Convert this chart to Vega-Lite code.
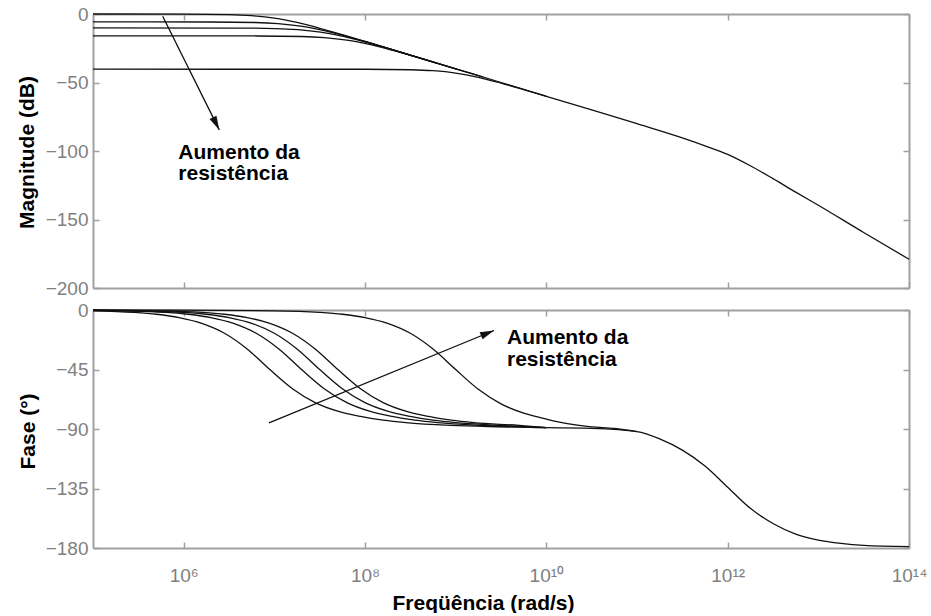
{
  "$schema": "https://vega.github.io/schema/vega-lite/v6.json",
  "autosize": {"type": "pad"},
  "padding": {"left": 15, "top": 5, "right": 0, "bottom": 0},
  "bounds": "flush",
  "spacing": 22,
  "background": "white",
  "datasets": {
    "mag": [
      {"c":"A","f":1e5,"v":0},{"c":"A","f":1e6,"v":-0.04},{"c":"A","f":3.162e6,"v":-0.41},{"c":"A","f":5.623e6,"v":-1.19},{"c":"A","f":1e7,"v":-3.01},{"c":"A","f":1.778e7,"v":-6.19},{"c":"A","f":3.162e7,"v":-10.41},{"c":"A","f":5.623e7,"v":-15.13},{"c":"A","f":1e8,"v":-20.04},{"c":"A","f":3.162e8,"v":-30.0},
      {"c":"B","f":1e5,"v":-5.8},{"c":"B","f":1.95e6,"v":-5.84},{"c":"B","f":6.166e6,"v":-6.21},{"c":"B","f":1.096e7,"v":-6.99},{"c":"B","f":1.95e7,"v":-8.81},{"c":"B","f":3.467e7,"v":-11.99},{"c":"B","f":6.166e7,"v":-16.21},{"c":"B","f":1.096e8,"v":-20.93},{"c":"B","f":1.95e8,"v":-25.84},{"c":"B","f":6.166e8,"v":-35.8},
      {"c":"C","f":1e5,"v":-10.2},{"c":"C","f":3.236e6,"v":-10.24},{"c":"C","f":1.023e7,"v":-10.61},{"c":"C","f":1.82e7,"v":-11.39},{"c":"C","f":3.236e7,"v":-13.21},{"c":"C","f":5.754e7,"v":-16.39},{"c":"C","f":1.023e8,"v":-20.61},{"c":"C","f":1.82e8,"v":-25.33},{"c":"C","f":3.236e8,"v":-30.24},{"c":"C","f":1.023e9,"v":-40.2},
      {"c":"D","f":1e5,"v":-16},{"c":"D","f":6.31e6,"v":-16.04},{"c":"D","f":1.995e7,"v":-16.41},{"c":"D","f":3.548e7,"v":-17.19},{"c":"D","f":6.31e7,"v":-19.01},{"c":"D","f":1.122e8,"v":-22.19},{"c":"D","f":1.995e8,"v":-26.41},{"c":"D","f":3.548e8,"v":-31.13},{"c":"D","f":6.31e8,"v":-36.04},{"c":"D","f":1.995e9,"v":-46.0},
      {"c":"E","f":1e5,"v":-40.3},{"c":"E","f":1e8,"v":-40.34},{"c":"E","f":3.162e8,"v":-40.7},{"c":"E","f":5.623e8,"v":-41.4},{"c":"E","f":1e9,"v":-43.1},{"c":"E","f":1.778e9,"v":-46.2},{"c":"E","f":3.162e9,"v":-50.41},{"c":"E","f":5.623e9,"v":-55.13},{"c":"E","f":1e10,"v":-60.04},
      {"c":"T","f":1e8,"v":-20},{"c":"T","f":3.162e8,"v":-30},{"c":"T","f":1e9,"v":-40},{"c":"T","f":3.162e9,"v":-50},{"c":"T","f":1e10,"v":-60.04},{"c":"T","f":3.162e10,"v":-70},{"c":"T","f":1e11,"v":-80.04},{"c":"T","f":3.162e11,"v":-90.41},{"c":"T","f":5.623e11,"v":-96.19},{"c":"T","f":1e12,"v":-102.5},{"c":"T","f":1.778e12,"v":-110.8},{"c":"T","f":3.162e12,"v":-120.2},{"c":"T","f":5.623e12,"v":-130},{"c":"T","f":1e13,"v":-139.6},{"c":"T","f":3.162e13,"v":-159.5},{"c":"T","f":1e14,"v":-179}
    ],
    "phase": [
      {"c":"A","f":1e5,"v":-0.6},{"c":"A","f":2.818e5,"v":-1.8},{"c":"A","f":5.012e5,"v":-3.2},{"c":"A","f":8.913e5,"v":-5.7},{"c":"A","f":1.585e6,"v":-10.1},{"c":"A","f":2.818e6,"v":-17.6},{"c":"A","f":5.012e6,"v":-29.5},{"c":"A","f":8.913e6,"v":-45},{"c":"A","f":1.585e7,"v":-59.5},{"c":"A","f":2.818e7,"v":-70},{"c":"A","f":5.012e7,"v":-76.5},{"c":"A","f":8.913e7,"v":-80.5},{"c":"A","f":1.585e8,"v":-83.3},{"c":"A","f":2.818e8,"v":-85.2},{"c":"A","f":8.913e8,"v":-87.3},{"c":"A","f":2.818e9,"v":-88.3},{"c":"A","f":1e10,"v":-89},
      {"c":"B","f":1e5,"v":-0.3},{"c":"B","f":6.31e5,"v":-1.8},{"c":"B","f":1.122e6,"v":-3.2},{"c":"B","f":1.995e6,"v":-5.7},{"c":"B","f":3.548e6,"v":-10.1},{"c":"B","f":6.31e6,"v":-17.6},{"c":"B","f":1.122e7,"v":-29.5},{"c":"B","f":1.995e7,"v":-45},{"c":"B","f":3.548e7,"v":-59.5},{"c":"B","f":6.31e7,"v":-70},{"c":"B","f":1.122e8,"v":-76.5},{"c":"B","f":1.995e8,"v":-80.5},{"c":"B","f":3.548e8,"v":-83.3},{"c":"B","f":6.31e8,"v":-85.2},{"c":"B","f":1.995e9,"v":-87.3},{"c":"B","f":1e10,"v":-89},
      {"c":"C","f":1e5,"v":-0.2},{"c":"C","f":1e6,"v":-1.8},{"c":"C","f":1.778e6,"v":-3.2},{"c":"C","f":3.162e6,"v":-5.7},{"c":"C","f":5.623e6,"v":-10.1},{"c":"C","f":1e7,"v":-17.6},{"c":"C","f":1.778e7,"v":-29.5},{"c":"C","f":3.162e7,"v":-45},{"c":"C","f":5.623e7,"v":-59.5},{"c":"C","f":1e8,"v":-70},{"c":"C","f":1.778e8,"v":-76.5},{"c":"C","f":3.162e8,"v":-80.5},{"c":"C","f":5.623e8,"v":-83.3},{"c":"C","f":1e9,"v":-85.2},{"c":"C","f":3.162e9,"v":-87.3},{"c":"C","f":1e10,"v":-89},
      {"c":"D","f":1e5,"v":-0.1},{"c":"D","f":5.012e5,"v":-0.6},{"c":"D","f":1.585e6,"v":-1.8},{"c":"D","f":2.818e6,"v":-3.2},{"c":"D","f":5.012e6,"v":-5.7},{"c":"D","f":8.913e6,"v":-10.1},{"c":"D","f":1.585e7,"v":-17.6},{"c":"D","f":2.818e7,"v":-29.5},{"c":"D","f":5.012e7,"v":-45},{"c":"D","f":8.913e7,"v":-59.5},{"c":"D","f":1.585e8,"v":-70},{"c":"D","f":2.818e8,"v":-76.5},{"c":"D","f":5.012e8,"v":-80.5},{"c":"D","f":8.913e8,"v":-83.3},{"c":"D","f":1.585e9,"v":-85.2},{"c":"D","f":5.012e9,"v":-87.3},{"c":"D","f":1e10,"v":-89},
      {"c":"E","f":1e5,"v":0},{"c":"E","f":1e6,"v":-0.1},{"c":"E","f":1e7,"v":-0.6},{"c":"E","f":3.162e7,"v":-1.8},{"c":"E","f":5.623e7,"v":-3.2},{"c":"E","f":1e8,"v":-5.7},{"c":"E","f":1.778e8,"v":-10.1},{"c":"E","f":3.162e8,"v":-17.6},{"c":"E","f":5.623e8,"v":-29.5},{"c":"E","f":1e9,"v":-45},{"c":"E","f":1.778e9,"v":-60},{"c":"E","f":3.162e9,"v":-71},{"c":"E","f":5.623e9,"v":-78},{"c":"E","f":1e10,"v":-82.5},{"c":"E","f":1.778e10,"v":-86.2},{"c":"E","f":3.162e10,"v":-88.4},{"c":"E","f":5.623e10,"v":-89.6},{"c":"E","f":1e11,"v":-92},
      {"c":"T","f":1e10,"v":-89},{"c":"T","f":3.162e10,"v":-89.6},{"c":"T","f":1e11,"v":-92},{"c":"T","f":1.778e11,"v":-97.5},{"c":"T","f":3.162e11,"v":-106},{"c":"T","f":5.623e11,"v":-118},{"c":"T","f":1e12,"v":-134},{"c":"T","f":1.778e12,"v":-150},{"c":"T","f":3.162e12,"v":-161.5},{"c":"T","f":5.623e12,"v":-169.5},{"c":"T","f":1e13,"v":-174},{"c":"T","f":1.778e13,"v":-176.5},{"c":"T","f":3.162e13,"v":-178},{"c":"T","f":1e14,"v":-179}
    ],
    "arrowTop": [{"f":5.87e5,"v":-1.7,"f2":2.47e6,"v2":-84.6}],
    "arrowBottom": [{"f":8.73e6,"v":-85.3,"f2":2.65e9,"v2":-15.5}],
    "textTop": [{"f":8.73e5,"v":-106.0,"t":"Aumento da"},{"f":8.73e5,"v":-121.2,"t":"resistência"}],
    "textBottom": [{"f":3.68e9,"v":-25.4,"t":"Aumento da"},{"f":3.68e9,"v":-42.1,"t":"resistência"}]
  },
  "vconcat": [
    {
      "width": 816,
      "height": 274,
      "resolve": {"axis": {"x": "independent", "y": "independent"}},
      "layer": [
        {
          "data": {"name": "mag"},
          "mark": {"type": "line", "color": "#111", "strokeWidth": 1.3, "interpolate": "monotone"},
          "encoding": {
            "x": {"field": "f", "type": "quantitative", "scale": {"type": "log", "domain": [1e5, 1e14], "nice": false},
                  "axis": {"orient": "bottom", "values": [1e6, 1e8, 1e10, 1e12, 1e14], "labels": false, "title": null}},
            "y": {"field": "v", "type": "quantitative", "scale": {"domain": [-200, 0], "nice": false, "zero": false},
                  "axis": {"orient": "left", "values": [-200, -150, -100, -50, 0], "title": "Magnitude (dB)", "labelPadding": 11,
                           "titleX": -60, "titleY": 138, "titleBaseline": "alphabetic", "titleAngle": -90, "titleAlign": "center"}},
            "detail": {"field": "c"}
          }
        },
        {
          "data": {"name": "arrowTop"},
          "mark": {"type": "rule", "color": "#111", "strokeWidth": 1.3},
          "encoding": {
            "x": {"field": "f", "type": "quantitative", "axis": {"orient": "top", "values": [1e6, 1e8, 1e10, 1e12, 1e14], "labels": false, "title": null}},
            "y": {"field": "v", "type": "quantitative", "axis": {"orient": "right", "values": [-200, -150, -100, -50, 0], "labels": false, "title": null}},
            "x2": {"field": "f2"},
            "y2": {"field": "v2"}
          }
        },
        {
          "data": {"name": "arrowTop"},
          "mark": {"type": "point", "shape": "M0,0L0.55,2L-0.55,2Z", "filled": true, "size": 196, "angle": 153.5, "color": "#111", "opacity": 1},
          "encoding": {
            "x": {"field": "f2", "type": "quantitative", "axis": null},
            "y": {"field": "v2", "type": "quantitative", "axis": null}
          }
        },
        {
          "data": {"name": "textTop"},
          "mark": {"type": "text", "align": "left", "baseline": "alphabetic", "font": "Liberation Sans", "fontWeight": "bold", "fontSize": 21, "color": "#000"},
          "encoding": {
            "x": {"field": "f", "type": "quantitative", "axis": null},
            "y": {"field": "v", "type": "quantitative", "axis": null},
            "text": {"field": "t"}
          }
        }
      ]
    },
    {
      "width": 816,
      "height": 238,
      "resolve": {"axis": {"x": "independent", "y": "independent"}},
      "layer": [
        {
          "data": {"name": "phase"},
          "mark": {"type": "line", "color": "#111", "strokeWidth": 1.3, "interpolate": "monotone"},
          "encoding": {
            "x": {"field": "f", "type": "quantitative", "scale": {"type": "log", "domain": [1e5, 1e14], "nice": false},
                  "axis": {"orient": "bottom", "values": [1e6, 1e8, 1e10, 1e12, 1e14], "title": "Freqüência (rad/s)", "labelPadding": 24,
                           "labelExpr": "datum.value == 1e6 ? '10⁶' : datum.value == 1e8 ? '10⁸' : datum.value == 1e10 ? '10¹⁰' : datum.value == 1e12 ? '10¹²' : '10¹⁴'",
                           "titleX": 390, "titleY": 61, "titleBaseline": "alphabetic", "titleAlign": "center"}},
            "y": {"field": "v", "type": "quantitative", "scale": {"domain": [-180, 0], "nice": false, "zero": false},
                  "axis": {"orient": "left", "values": [-180, -135, -90, -45, 0], "title": "Fase (°)", "labelPadding": 11,
                           "titleX": -59, "titleY": 121, "titleBaseline": "alphabetic", "titleAngle": -90, "titleAlign": "center"}},
            "detail": {"field": "c"}
          }
        },
        {
          "data": {"name": "arrowBottom"},
          "mark": {"type": "rule", "color": "#111", "strokeWidth": 1.3},
          "encoding": {
            "x": {"field": "f", "type": "quantitative", "axis": {"orient": "top", "values": [1e6, 1e8, 1e10, 1e12, 1e14], "labels": false, "title": null}},
            "y": {"field": "v", "type": "quantitative", "axis": {"orient": "right", "values": [-180, -135, -90, -45, 0], "labels": false, "title": null}},
            "x2": {"field": "f2"},
            "y2": {"field": "v2"}
          }
        },
        {
          "data": {"name": "arrowBottom"},
          "mark": {"type": "point", "shape": "M0,0L0.55,2L-0.55,2Z", "filled": true, "size": 196, "angle": 67.8, "color": "#111", "opacity": 1},
          "encoding": {
            "x": {"field": "f2", "type": "quantitative", "axis": null},
            "y": {"field": "v2", "type": "quantitative", "axis": null}
          }
        },
        {
          "data": {"name": "textBottom"},
          "mark": {"type": "text", "align": "left", "baseline": "alphabetic", "font": "Liberation Sans", "fontWeight": "bold", "fontSize": 21, "color": "#000"},
          "encoding": {
            "x": {"field": "f", "type": "quantitative", "axis": null},
            "y": {"field": "v", "type": "quantitative", "axis": null},
            "text": {"field": "t"}
          }
        }
      ]
    }
  ],
  "config": {
    "view": {"stroke": null},
    "font": "Liberation Sans",
    "axis": {
      "grid": false,
      "domainColor": "#a0a0a0",
      "domainWidth": 2,
      "tickColor": "#a0a0a0",
      "tickWidth": 1.5,
      "tickSize": -6,
      "labelFont": "Liberation Sans",
      "labelFontSize": 19,
      "labelColor": "#808080",
      "labelFlush": false,
      "labelOverlap": false,
      "labelBound": false,
      "titleFont": "Liberation Sans",
      "titleFontSize": 21,
      "titleFontWeight": "bold",
      "titleColor": "#000"
    }
  }
}
